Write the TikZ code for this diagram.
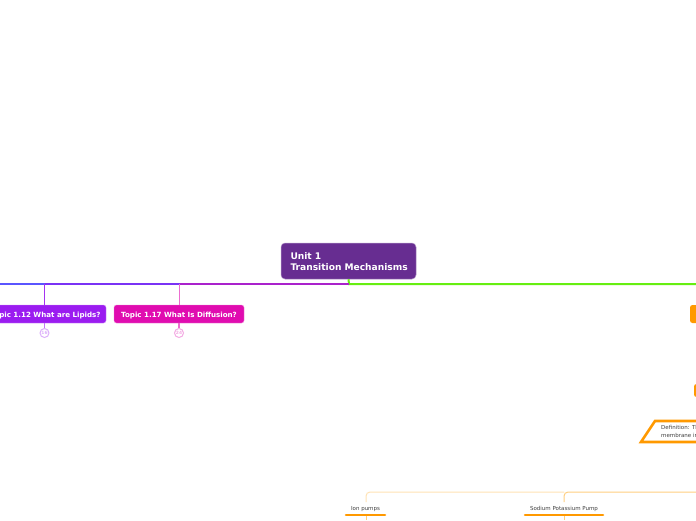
\documentclass[tikz,border=0pt]{standalone}
\usepackage{fontspec}
\setmainfont{DejaVu Sans}
\usetikzlibrary{shapes.geometric}
\usetikzlibrary{positioning}
\definecolor{rootpurple}{HTML}{672D91}
\definecolor{lipidpurple}{HTML}{9B1CF0}
\definecolor{diffpink}{HTML}{E00CB0}
\definecolor{branchgreen}{HTML}{66EE11}
\definecolor{leaforange}{HTML}{FF9900}
\definecolor{paleorange}{HTML}{FFE3B5}
\definecolor{midorange}{HTML}{FFCF80}
\definecolor{rootline}{HTML}{AA22CC}
\definecolor{midline}{HTML}{7A33F5}
\definecolor{farline}{HTML}{5A55FF}
\tikzset{x=1pt,y=-1pt,
         rootbox/.style={draw=rootpurple!50!white,line width=0.5pt,fill=rootpurple,rounded corners=4pt,text=white,font=\bfseries\fontsize{9.1}{11}\selectfont,align=left,inner sep=0pt,minimum width=135pt,minimum height=36pt,text width=116pt,text height=8.7pt},
         topicbox/.style={draw=#1!50!white,line width=0.4pt,fill=#1,rounded corners=2.5pt,text=white,font=\bfseries\fontsize{7.1}{8}\selectfont,inner sep=0pt,minimum height=18pt,text height=6pt,text depth=0pt},
         countdot/.style={circle,draw=#1,line width=1pt,fill=white,minimum size=9pt,inner sep=0pt,font=\bfseries\fontsize{4.4}{4}\selectfont,text=#1},
         leaflabel/.style={font=\fontsize{5.5}{6}\selectfont,text=black!75,inner sep=0pt,text height=4pt,text depth=0pt},
         }
\begin{document}
\begin{tikzpicture}
\useasboundingbox (0,0) rectangle (696,520);
\clip (0,0) rectangle (696,520);
\fill[white] (0,0) rectangle (696,520);
% main branch
\coordinate (rootfoot) at (349,284);
\coordinate (leftend) at (0,284);
\coordinate (rightend) at (696,284);
\coordinate (join17) at (179.5,284);
\coordinate (join12) at (44.5,284);
\node[rootbox] (root) at (348.5,261) {Unit 1\\\mbox{Transition Mechanisms}};
\draw[branchgreen,line width=2pt] (root.south) -- (rootfoot) -- (rightend);
\draw[line width=2pt,color=rootline] (rootfoot) -- (join17);
\draw[line width=2pt,color=midline] (join17) -- (join12);
\draw[line width=2pt,color=farline] (join12) -- (leftend);
% topics
\node[topicbox=lipidpurple,minimum width=121pt] (lipids) at (45.5,314) {Topic 1.12 What are Lipids?};
\node[topicbox=diffpink,minimum width=130pt] (diffusion) at (179,314) {Topic 1.17 What Is Diffusion?};
\node[countdot=lipidpurple!35!white] (count12) at (44.5,333) {16};
\node[countdot=diffpink!35!white] (count17) at (179,333) {24};
\draw[lipidpurple!90!white,line width=1.2pt] (join12) -- (lipids.north -| join12);
\draw[diffpink!60!white,line width=1.2pt] (join17) -- (diffusion.north -| join17);
\draw[lipidpurple!60!white,line width=1.2pt] (lipids.south -| count12) -- (count12);
\draw[diffpink!60!white,line width=1.2pt] (diffusion.south -| count17) -- (count17);
% right side, cut by the frame
\node[fill=leaforange,rounded corners=2.5pt,minimum width=40pt,minimum height=18pt,inner sep=0pt] (ratebox) at (710,314) {};
\node[fill=leaforange,rounded corners=2.5pt,minimum width=30pt,minimum height=13pt,inner sep=0pt] (defbox) at (709,390.5) {};
\draw[leaforange,line width=2.6pt] (655,421) -- (740,421) -- (725,442) -- (641,442) -- cycle;
\node[font=\fontsize{5.5}{7.2}\selectfont,text=black!75,anchor=west,align=left,inner sep=0pt] (deftext) at (661,431.5) {Definition: The\\membrane in};
% pumps
\coordinate (pumpend) at (696,492);
\coordinate (iontop) at (366,502);
\coordinate (sodtop) at (564,502);
\coordinate (ionbend) at (366,492);
\coordinate (sodbend) at (564,492);
\node[leaflabel] (ionpumps) at (365.5,508) {Ion pumps};
\node[leaflabel] (sodium) at (564,508) {Sodium Potassium Pump};
\coordinate (ionline) at (346,515);
\coordinate (ionlineb) at (385,515);
\coordinate (sodline) at (525,515);
\coordinate (sodlineb) at (603,515);
\coordinate (ionfoot) at (366,520);
\coordinate (sodfoot) at (564,520);
\draw[paleorange,line width=1pt,rounded corners=4pt] (iontop) -- (ionbend) -- (sodbend);
\draw[midorange,line width=1pt,rounded corners=4pt] (sodtop) -- (sodbend) -- (pumpend);
\draw[midorange,line width=1pt] (ionline -| ionfoot) -- (ionfoot);
\draw[midorange,line width=1pt] (sodline -| sodfoot) -- (sodfoot);
\draw[leaforange,line width=2.6pt,line cap=round] (ionline) -- (ionlineb);
\draw[leaforange,line width=2.6pt,line cap=round] (sodline) -- (sodlineb);
\end{tikzpicture}
\end{document}
